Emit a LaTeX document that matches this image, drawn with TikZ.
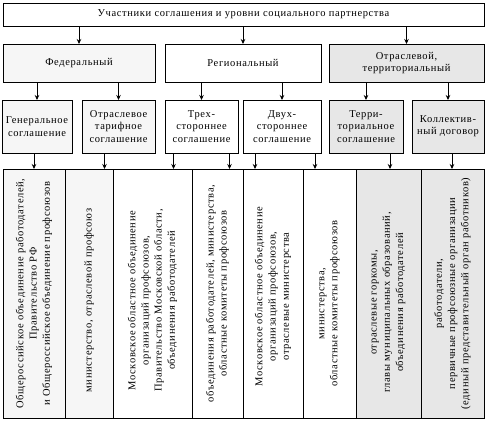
\documentclass[tikz,border=0pt]{standalone}
\usepackage{fontspec}
\setmainfont{Liberation Serif}[LetterSpace=6]
\usetikzlibrary{arrows.meta}
\definecolor{fedfill}{gray}{0.965}
\definecolor{secfill}{gray}{0.905}

\begin{document}
\begin{tikzpicture}[y=1pt, x=1pt, yscale=-1, inner sep=0pt, outer sep=0pt,
  box/.style={draw=black, line width=0.8pt, align=center,
    font=\fontsize{10.5}{12.3}\selectfont},
  cell/.style={draw=black, line width=0.8pt, minimum height=249pt},
  coltext/.style={rotate=90, align=center, font=\fontsize{10.5}{13.2}\selectfont},
  arr/.style={-{Stealth[length=5pt,width=4.5pt]}, line width=0.7pt}]
\useasboundingbox (0,0) rectangle (486,426);

% top
\node[box, minimum width=481pt, minimum height=23pt] (top) at (243.5,14.5)
  {Участники соглашения и уровни социального партнерства};

% levels
\node[box, fill=fedfill, minimum width=152pt, minimum height=38pt] (fed) at (79,63)
  {Федеральный};
\node[box, minimum width=156pt, minimum height=38pt] (reg) at (243,63)
  {Региональный};
\node[box, fill=secfill, minimum width=155pt, minimum height=38pt] (sec) at (406.5,63)
  {Отраслевой,\\территориальный};

% agreements
\node[box, fill=fedfill, minimum width=70pt, minimum height=53pt] (gen) at (37,126.5)
  {Генеральное\\соглашение};
\node[box, fill=fedfill, minimum width=73pt, minimum height=53pt] (tarif) at (118.5,126.5)
  {Отраслевое\\тарифное\\соглашение};
\node[box, minimum width=73pt, minimum height=53pt] (tri) at (201.5,126.5)
  {Трех-\\стороннее\\соглашение};
\node[box, minimum width=78pt, minimum height=53pt] (bi) at (282,126.5)
  {Двух-\\стороннее\\соглашение};
\node[box, fill=secfill, minimum width=74pt, minimum height=53pt] (terr) at (366,126.5)
  {Терри-\\ториальное\\соглашение};
\node[box, fill=secfill, minimum width=72pt, minimum height=53pt] (koll) at (448,126.5)
  {Коллектив-\\ный договор};

% participants
\node[cell, fill=fedfill, minimum width=62pt] (c1) at (34,293.5) {};
\node[cell, fill=fedfill, minimum width=48pt] (c2) at (89,293.5) {};
\node[cell, minimum width=79pt] (c3) at (152.5,293.5) {};
\node[cell, minimum width=51pt] (c4) at (217.5,293.5) {};
\node[cell, minimum width=60pt] (c5) at (273,293.5) {};
\node[cell, minimum width=53pt] (c6) at (329.5,293.5) {};
\node[cell, fill=secfill, minimum width=65pt] (c7) at (388.5,293.5) {};
\node[cell, fill=secfill, minimum width=63pt] (c8) at (452.5,293.5) {};

\node[coltext] (t1) at (c1) {Общероссийское объединение работодателей,\\Правительство РФ\\и Общероссийское объединение профсоюзов};
\node[coltext] (t2) at ([yshift=7pt]c2) {министерство, отраслевой профсоюз};
\node[coltext] (t3) at ([yshift=7pt]c3) {Московское областное объединение\\организаций профсоюзов,\\Правительство Московской области,\\объединения работодателей};
\node[coltext] (t4) at (c4) {объединения работодателей, министерства,\\областные комитеты профсоюзов};
\node[coltext] (t5) at ([yshift=3pt]c5) {Московское областное объединение\\организаций профсоюзов,\\отраслевые министерства};
\node[coltext] (t6) at ([yshift=10pt]c6) {министерства,\\областные комитеты профсоюзов};
\node[coltext] (t7) at ([yshift=9pt]c7) {отраслевые горкомы,\\главы муниципальных образований,\\объединения работодателей};
\node[coltext] (t8) at (c8) {работодатели,\\первичные профсоюзные организации\\(единый представительный орган работников)};

% arrows
\draw[arr] (top.south -| fed.north) -- (fed.north);
\draw[arr] (top.south -| reg.north) -- (reg.north);
\draw[arr] (top.south -| sec.north) -- (sec.north);
\draw[arr] (fed.south -| gen.north) -- (gen.north);
\draw[arr] (fed.south -| tarif.north) -- (tarif.north);
\draw[arr] (reg.south -| tri.north) -- (tri.north);
\draw[arr] (reg.south -| bi.north) -- (bi.north);
\draw[arr] (sec.south -| terr.north) -- (terr.north);
\draw[arr] (sec.south -| koll.north) -- (koll.north);
\draw[arr] (gen.south -| c1.north) -- (c1.north);
\draw[arr] ([xshift=-14pt]tarif.south) -- ([xshift=-14pt]tarif.south |- c2.north);
\draw[arr] ([xshift=-28pt]tri.south) -- ([xshift=-28pt]tri.south |- c3.north);
\draw[arr] ([xshift=28pt]tri.south) -- ([xshift=28pt]tri.south |- c4.north);
\draw[arr] ([xshift=-27pt]bi.south) -- ([xshift=-27pt]bi.south |- c5.north);
\draw[arr] ([xshift=33pt]bi.south) -- ([xshift=33pt]bi.south |- c6.north);
\draw[arr] ([xshift=24pt]terr.south) -- ([xshift=24pt]terr.south |- c7.north);
\draw[arr] ([xshift=4pt]koll.south) -- ([xshift=4pt]koll.south |- c8.north);

\end{tikzpicture}
\end{document}
